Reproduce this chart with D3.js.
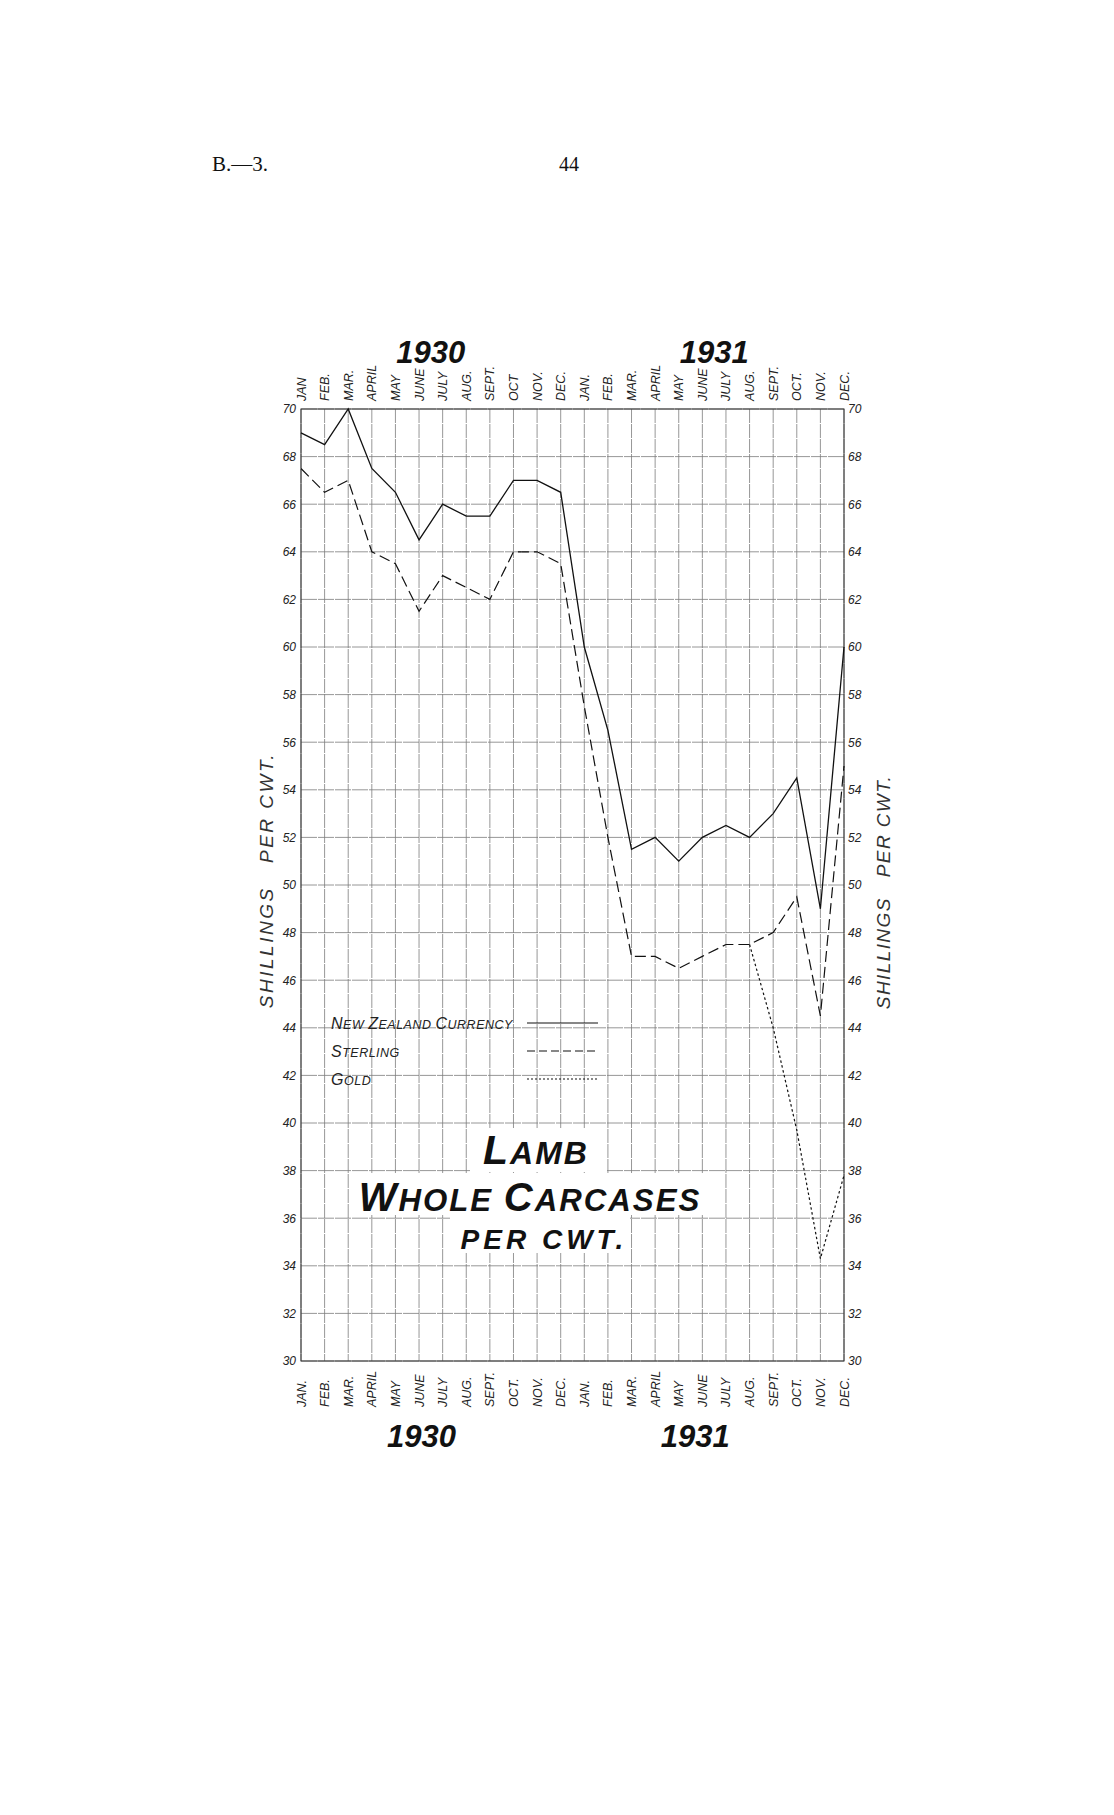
<!DOCTYPE html>
<html>
<head>
<meta charset="utf-8">
<script src="https://cdn.jsdelivr.net/npm/d3@7"></script>
<style>
  html, body { margin: 0; padding: 0; background: #fff; }
  svg { display: block; }
</style>
</head>
<body>
<svg id="chart" width="1114" height="1815"></svg>
<script>
// ---- data ----
const monthsTop = ["JAN","FEB.","MAR.","APRIL","MAY","JUNE","JULY","AUG.","SEPT.","OCT","NOV.","DEC.",
                   "JAN.","FEB.","MAR.","APRIL","MAY","JUNE","JULY","AUG.","SEPT.","OCT.","NOV.","DEC."];
const monthsBottom = ["JAN.","FEB.","MAR.","APRIL","MAY","JUNE","JULY","AUG.","SEPT.","OCT.","NOV.","DEC.",
                      "JAN.","FEB.","MAR.","APRIL","MAY","JUNE","JULY","AUG.","SEPT.","OCT.","NOV.","DEC."];
const years = ["1930", "1931"];
const yTicks = [70,68,66,64,62,60,58,56,54,52,50,48,46,44,42,40,38,36,34,32,30];

const nzCurrency = [69, 68.5, 70, 67.5, 66.5, 64.5, 66, 65.5, 65.5, 67, 67, 66.5,
                    60, 56.5, 51.5, 52, 51, 52, 52.5, 52, 53, 54.5, 49, 60];
const sterling   = [67.5, 66.5, 67, 64, 63.5, 61.5, 63, 62.5, 62, 64, 64, 63.5,
                    57.5, 52, 47, 47, 46.5, 47, 47.5, 47.5, 48, 49.5, 44.5, 55];
const gold       = [null, null, null, null, null, null, null, null, null, null, null, null,
                    null, null, null, null, null, null, null, 47.5, 44, 39.7, 34.3, 37.8];

const legendLabels = ["NEW ZEALAND CURRENCY", "STERLING", "GOLD"];
const titleLines = ["LAMB", "WHOLE CARCASES", "PER CWT."];
const axisTitle = "SHILLINGS   PER CWT.";

// ---- layout ----
(function () {
const svg = d3.select("#chart");
const pL = 301, pR = 844, pT = 409, pB = 1361;
const idx = d3.range(monthsTop.length);
const x = d3.scalePoint().domain(idx).range([pL, pR]);
const xf = v => x(0) + v * x.step();   // fractional month position
const y = d3.scaleLinear().domain([30, 70]).range([pB, pT]);

const handFont = "'Liberation Sans', Arial, sans-serif";

// header
svg.append("text").attr("x", 212).attr("y", 171)
  .attr("font-family", "'Liberation Serif', 'DejaVu Serif', serif").attr("font-size", 21)
  .attr("fill", "#111").text("B.—3.");
svg.append("text").attr("x", 569).attr("y", 171).attr("text-anchor", "middle")
  .attr("font-family", "'Liberation Serif', 'DejaVu Serif', serif").attr("font-size", 20)
  .attr("fill", "#111").text("44");

// grid
const grid = svg.append("g");
grid.selectAll("line.v").data(idx).join("line")
  .attr("x1", d => x(d)).attr("x2", d => x(d))
  .attr("y1", pT).attr("y2", pB)
  .attr("stroke", "#7c7c7c").attr("stroke-width", 0.8)
  .attr("stroke-dasharray", "14,1");
grid.selectAll("line.h").data(yTicks).join("line")
  .attr("x1", pL).attr("x2", pR)
  .attr("y1", d => y(d)).attr("y2", d => y(d))
  .attr("stroke", "#7c7c7c").attr("stroke-width", 0.8)
  .attr("stroke-dasharray", "16,1");
svg.append("rect").attr("x", pL).attr("y", pT)
  .attr("width", pR - pL).attr("height", pB - pT)
  .attr("fill", "none").attr("stroke", "#333").attr("stroke-width", 1);

// y axes
const yAxisL = d3.axisLeft(y).tickValues(yTicks).tickSize(0).tickPadding(5);
const yAxisR = d3.axisRight(y).tickValues(yTicks).tickSize(0).tickPadding(4);
const gL = svg.append("g").attr("transform", `translate(${pL},0)`).call(yAxisL);
const gR = svg.append("g").attr("transform", `translate(${pR},0)`).call(yAxisR);
[gL, gR].forEach(g => {
  g.select(".domain").remove();
  g.selectAll("text").attr("font-family", handFont).attr("font-style", "italic")
    .attr("font-size", 12).attr("fill", "#222");
});

// month labels
function monthLabels(labels, yy) {
  svg.append("g").selectAll("text").data(labels).join("text")
    .attr("transform", (d, i) => `translate(${x(i) + 4.5},${yy}) rotate(-90)`)
    .attr("text-anchor", "start")
    .attr("font-family", handFont).attr("font-style", "italic")
    .attr("font-size", 12.5).attr("fill", "#222")
    .text(d => d);
}
monthLabels(monthsTop, 401);
monthLabels(monthsBottom, 1407);

// year labels
function yearLabels(yy, offs) {
  svg.append("g").selectAll("text").data(years).join("text")
    .attr("x", (d, i) => xf(i * 12 + offs[i]))
    .attr("y", yy).attr("text-anchor", "middle")
    .attr("font-family", handFont).attr("font-style", "italic").attr("font-weight", "bold")
    .attr("font-size", 31).attr("fill", "#111")
    .text(d => d);
}
yearLabels(363, [5.5, 5.5]);
yearLabels(1447, [5.1, 4.7]);

// axis titles
function axisTitleAt(cx, cy, ls) {
  svg.append("text")
    .attr("transform", `translate(${cx},${cy}) rotate(-90)`)
    .attr("text-anchor", "middle")
    .attr("font-family", handFont).attr("font-style", "italic")
    .attr("font-size", 19).attr("letter-spacing", ls).attr("fill", "#333")
    .style("white-space", "pre")
    .text(axisTitle);
}
axisTitleAt(273, 880, 2.5);
axisTitleAt(890, 892, 1.4);

// title block (white masks + text)
const titleStyle = [
  { yb: 1164, size: 41, mask: [470, 1128, 136, 44] },
  { yb: 1211, size: 40, mask: [350, 1173, 358, 42] },
  { yb: 1249, size: 28, mask: [450, 1215, 180, 38] }
];
titleStyle.forEach(s => {
  svg.append("rect").attr("x", s.mask[0]).attr("y", s.mask[1])
    .attr("width", s.mask[2]).attr("height", s.mask[3]).attr("fill", "#fff");
});
function smallCapsText(g, str, big, small) {
  str.split(" ").forEach((w, wi) => {
    if (wi > 0) g.append("tspan").attr("font-size", small).text("\u00a0");
    g.append("tspan").attr("font-size", big).text(w[0]);
    if (w.length > 1) g.append("tspan").attr("font-size", small).text(w.slice(1));
  });
}
titleLines.forEach((t, i) => {
  const s = titleStyle[i];
  const tx = svg.append("text").attr("x", i === 1 ? 530 : i === 2 ? 544 : 536).attr("y", s.yb)
    .attr("text-anchor", "middle")
    .attr("font-family", handFont).attr("font-style", "italic").attr("font-weight", "bold")
    .attr("fill", "#111").attr("letter-spacing", 2);
  if (i === 2) {
    tx.attr("font-size", s.size).attr("letter-spacing", 4).text(t);
  } else {
    smallCapsText(tx, t, s.size, s.size * 0.78);
  }
});

// legend
const legendY = [1029, 1057, 1085];
const dashes = [null, "8,4", "2,2"];
legendLabels.forEach((t, i) => {
  const tx = svg.append("text").attr("x", 331).attr("y", legendY[i])
    .attr("font-family", handFont).attr("font-style", "italic")
    .attr("fill", "#222").attr("letter-spacing", 0.5);
  smallCapsText(tx, t, 16, 12.5);
  svg.append("line").attr("x1", 527).attr("x2", 598)
    .attr("y1", legendY[i] - 6).attr("y2", legendY[i] - 6)
    .attr("stroke", "#111").attr("stroke-width", 1.1)
    .attr("stroke-dasharray", dashes[i]);
});

// series lines
const line = d3.line().defined(d => d != null).x((d, i) => x(i)).y(d => y(d));
const series = [
  { data: nzCurrency, dash: null, w: 1.3 },
  { data: sterling, dash: "11,5", w: 1.2 },
  { data: gold, dash: "2.5,2.5", w: 1.2 }
];
series.forEach(s => {
  svg.append("path").datum(s.data)
    .attr("d", line)
    .attr("fill", "none").attr("stroke", "#111").attr("stroke-width", s.w)
    .attr("stroke-dasharray", s.dash);
});
})();
</script>
</body>
</html>
